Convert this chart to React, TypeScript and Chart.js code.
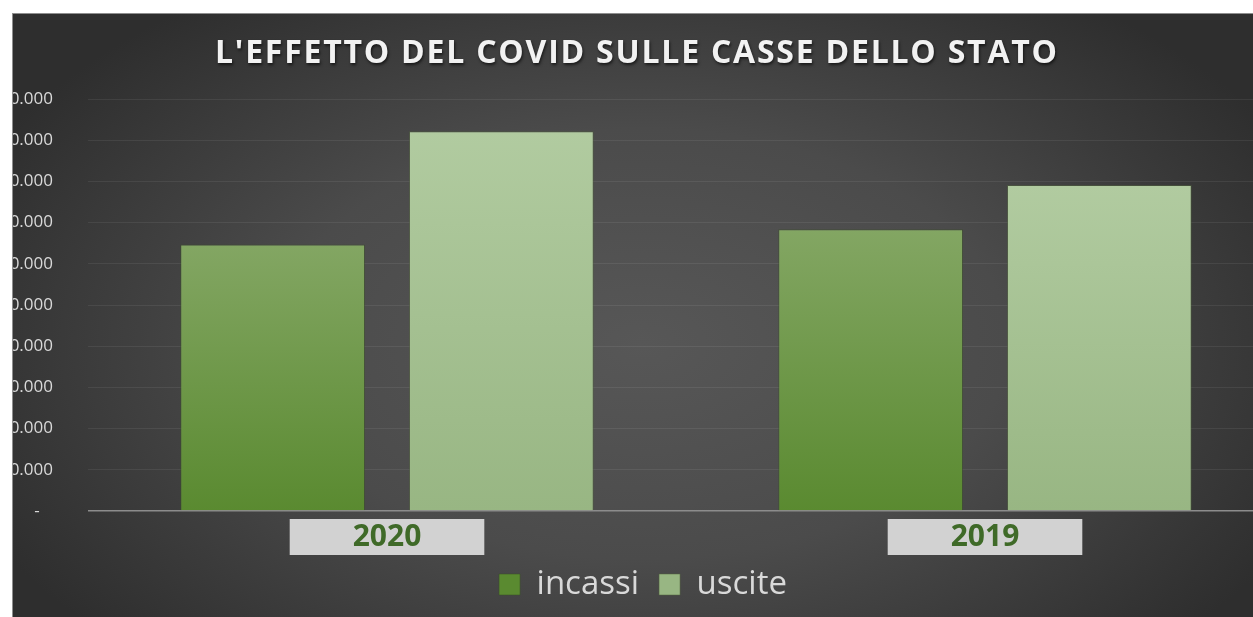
import React, { useEffect, useRef } from 'react';
import { Chart, registerables } from 'chart.js';

Chart.register(...registerables);

// ---- data ----
const categories = ['2020', '2019'];
const seriesNames = ['incassi', 'uscite'];
const incassi = [647000, 684000];
const uscite = [922000, 791000];
const yMin = 0;
const yMax = 1000000;
const yStep = 100000;
const titleText = "L'EFFETTO DEL COVID SULLE CASSE DELLO STATO";

function formatTick(v: number): string {
  if (v === 0) return '-   ';
  return String(Math.round(v)).replace(/\B(?=(\d{3})+(?!\d))/g, '.');
}

function barFill(top: string, bottom: string, solid: string) {
  return (ctx: any) => {
    if (ctx.type !== 'data') return solid;
    const chart = ctx.chart;
    const area = chart.chartArea;
    const ys = chart.scales && chart.scales.y;
    if (!area || !ys) return solid;
    const v = ctx.parsed ? ctx.parsed.y : ctx.raw;
    const y = ys.getPixelForValue(v);
    const g = chart.ctx.createLinearGradient(0, y, 0, area.bottom);
    g.addColorStop(0, top);
    g.addColorStop(1, bottom);
    return g;
  };
}

const backgroundPlugin = {
  id: 'bgGradient',
  beforeDraw(chart: any) {
    const { ctx, width, height } = chart;
    ctx.save();
    const cx = 640;
    const cy = 330;
    const sx = 1.7;
    ctx.translate(cx, cy);
    ctx.scale(sx, 1);
    const r = 430;
    const g = ctx.createRadialGradient(0, 0, 0, 0, 0, r);
    g.addColorStop(0, '#575757');
    g.addColorStop(0.5, '#4b4b4b');
    g.addColorStop(1, '#2e2e2e');
    ctx.fillStyle = g;
    ctx.fillRect(-cx / sx - 10, -cy - 10, width / sx + 20, height + 20);
    ctx.restore();
  },
};

const legendShiftPlugin = {
  id: 'legendShift',
  afterLayout(chart: any) {
    const l = chart.legend;
    if (l) {
      l.top -= 7;
      l.bottom -= 7;
    }
  },
};

const titlePlugin = {
  id: 'spacedTitle',
  afterDraw(chart: any) {
    const { ctx } = chart;
    ctx.save();
    ctx.font = "bold 32px 'Open Sans'";
    (ctx as any).letterSpacing = '0px';
    const w0 = ctx.measureText(titleText).width;
    const targetW = 842;
    const sp = (targetW - w0) / (titleText.length - 1);
    (ctx as any).letterSpacing = sp + 'px';
    ctx.textAlign = 'left';
    ctx.textBaseline = 'alphabetic';
    ctx.shadowColor = 'rgba(0,0,0,0.6)';
    ctx.shadowBlur = 3;
    ctx.shadowOffsetX = 1;
    ctx.shadowOffsetY = 2;
    ctx.fillStyle = '#f2f2f2';
    ctx.fillText(titleText, 634 - targetW / 2, 49);
    ctx.restore();
  },
};

export default function App() {
  const canvasRef = useRef<HTMLCanvasElement | null>(null);

  useEffect(() => {
    if (!canvasRef.current) return;
    const chart = new Chart(canvasRef.current, {
      type: 'bar',
      data: {
        labels: categories,
        datasets: [
          {
            label: seriesNames[0],
            data: incassi,
            backgroundColor: barFill('#83a663', '#5a8a30', '#6c9a44'),
            borderColor: 'rgba(60,80,40,0.55)',
            borderWidth: 1,
            categoryPercentage: 0.765,
            barPercentage: 0.808,
          },
          {
            label: seriesNames[1],
            data: uscite,
            backgroundColor: barFill('#b1cba0', '#98b683', '#a9c797'),
            borderColor: 'rgba(80,100,60,0.5)',
            borderWidth: 1,
            categoryPercentage: 0.765,
            barPercentage: 0.808,
          },
        ],
      },
      options: {
        animation: false,
        responsive: true,
        maintainAspectRatio: false,
        layout: { padding: { top: 85, bottom: 0, left: 0, right: 0 } },
        plugins: {
          title: { display: false },
          tooltip: { enabled: false },
          legend: {
            display: true,
            position: 'bottom',
            labels: {
              color: '#d9d9d9',
              font: { family: "'Open Sans'", size: 33 },
              boxWidth: 21,
              boxHeight: 21,
              padding: 20,
            },
          },
        },
        scales: {
          x: {
            grid: { display: false, drawTicks: false },
            border: { display: false },
            ticks: {
              color: '#3f6a28',
              font: { family: "'Open Sans'", size: 30, weight: 'bold' },
              padding: 8,
              showLabelBackdrop: true,
              backdropColor: '#d2d2d2',
              backdropPadding: { left: 63, right: 63, top: 0, bottom: 0 },
              maxRotation: 0,
            },
            afterFit(scale: any) {
              scale.height = 44;
            },
          },
          y: {
            min: yMin,
            max: yMax,
            grid: {
              drawTicks: false,
              color: (c: any) => (c.tick && c.tick.value === 0 ? '#8c8c8c' : 'rgba(255,255,255,0.07)'),
              lineWidth: (c: any) => (c.tick && c.tick.value === 0 ? 1.5 : 1),
            },
            border: { display: false },
            ticks: {
              stepSize: yStep,
              color: '#d9d9d9',
              font: { family: "'Open Sans'", size: 17 },
              padding: 35,
              callback: (v: any) => formatTick(Number(v)),
            },
            afterFit(scale: any) {
              scale.width = 86;
            },
          },
        },
      },
      plugins: [backgroundPlugin, legendShiftPlugin, titlePlugin],
    } as any);
    return () => chart.destroy();
  }, []);

  return (
    <div
      style={{
        position: 'absolute',
        left: 12,
        top: 13,
        width: 1241,
        height: 604,
        overflow: 'hidden',
        background: '#3c3c3c',
      }}
    >
      <div style={{ position: 'absolute', left: -10, top: 1, width: 1282, height: 604 }}>
        <canvas ref={canvasRef} />
      </div>
      <div
        style={{
          position: 'absolute',
          left: 0,
          top: 0,
          right: 0,
          bottom: 0,
          boxShadow: 'inset 1px 1px 0 #8e8e8e',
          pointerEvents: 'none',
        }}
      />
    </div>
  );
}
